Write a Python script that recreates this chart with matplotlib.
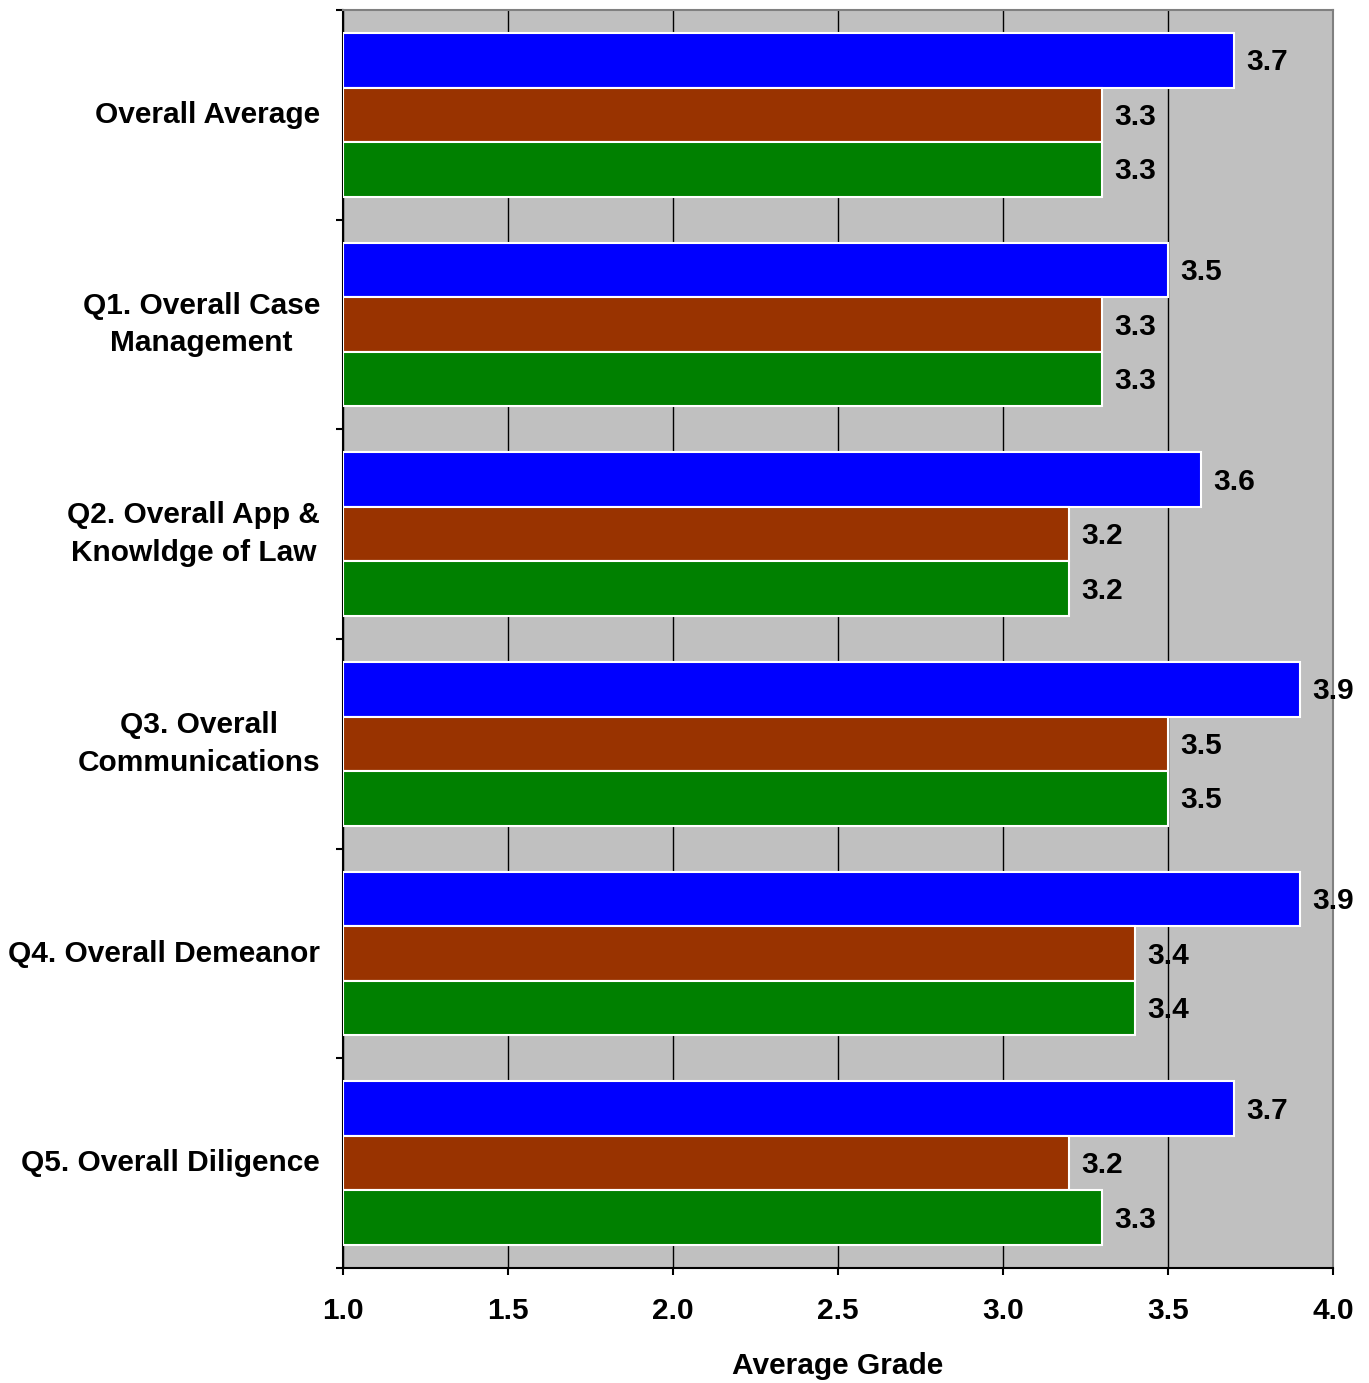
import matplotlib.pyplot as plt
import numpy as np

plt.rcParams['font.family'] = ['Liberation Sans', 'DejaVu Sans']
plt.rcParams['font.weight'] = 'bold'

categories = ['Overall Average', 'Q1. Overall Case\nManagement', 'Q2. Overall App &\nKnowldge of Law',
              'Q3. Overall\nCommunications', 'Q4. Overall Demeanor', 'Q5. Overall Diligence']
series_blue = [3.7, 3.5, 3.6, 3.9, 3.9, 3.7]
series_brown = [3.3, 3.3, 3.2, 3.5, 3.4, 3.2]
series_green = [3.3, 3.3, 3.2, 3.5, 3.4, 3.3]
colors = ['#0000FF', '#993300', '#008000']
fs = 21.5

fig = plt.figure(figsize=(13.69, 13.83), dpi=100)
ax = fig.add_axes([343 / 1369, 115 / 1383, 990 / 1369, 1258 / 1383])
ax.set_facecolor('#C0C0C0')

y = np.arange(len(categories))
h = 0.26
for k, (vals, c) in enumerate(zip([series_blue, series_brown, series_green], colors)):
    pos = y + (k - 1) * h
    ax.barh(pos, np.array(vals) - 1.0, left=1.0, height=h, color=c, edgecolor='white', linewidth=1.5, zorder=3)
    for p, v in zip(pos, vals):
        ax.text(v + 0.036, p + 0.01, f'{v:.1f}', va='center', ha='left', fontsize=fs, fontweight='bold',
                zorder=4, clip_on=False)

ax.set_xlim(1.0, 4.0)
ax.set_ylim(len(categories) - 0.5, -0.5)
ax.set_xticks(np.arange(1.0, 4.01, 0.5))
ax.set_xticklabels([f'{t:.1f}' for t in np.arange(1.0, 4.01, 0.5)], fontsize=fs, fontweight='bold')
ax.xaxis.grid(True, color='black', linewidth=1, zorder=1)
ax.set_axisbelow(True)

ax.set_yticks(np.arange(-0.5, len(categories), 1.0))
ax.set_yticklabels([])
ax.set_yticks(y, minor=True)
ax.set_yticklabels(categories, minor=True, fontsize=fs, fontweight='bold', multialignment='center',
                   linespacing=1.45, va='center')
ax.tick_params(axis='y', which='minor', length=0, pad=16.5)
ax.tick_params(axis='y', which='major', length=5, width=1.5, direction='out')
ax.tick_params(axis='x', length=5, width=1.5, direction='out', pad=16)

ax.set_xlabel('Average Grade', fontsize=fs, fontweight='bold', labelpad=19)

for s in ['left', 'bottom']:
    ax.spines[s].set_color('black')
    ax.spines[s].set_linewidth(1.5)
for s in ['top', 'right']:
    ax.spines[s].set_color('#808080')
    ax.spines[s].set_linewidth(1.5)

fig.savefig('out.png', dpi=100)
